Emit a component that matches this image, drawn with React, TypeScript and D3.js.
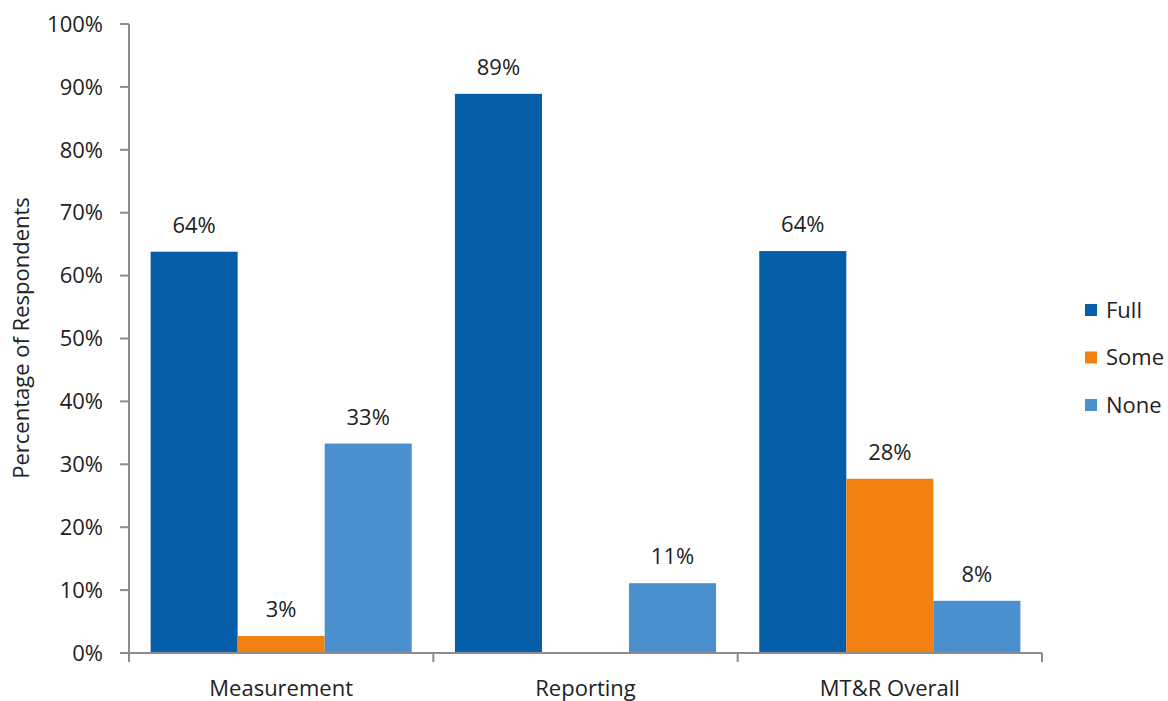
import React from "react";
import * as d3 from "d3";

const categories = ["Measurement", "Reporting", "MT&R Overall"];
const seriesNames = ["Full", "Some", "None"];
const fullValues = [63.8, 88.9, 63.9];
const someValues = [2.7, 0, 27.7];
const noneValues = [33.3, 11.1, 8.3];
const labelFull = ["64%", "89%", "64%"];
const labelSome = ["3%", "", "28%"];
const labelNone = ["33%", "11%", "8%"];
const yTicks = [0, 10, 20, 30, 40, 50, 60, 70, 80, 90, 100];
const colors = ["#065EA9", "#F28112", "#4A90CE"];

export default function App() {
  const W = 1168, H = 701;
  const left = 129, right = 1042, top = 24, bottom = 653;
  const x0 = d3.scaleBand<string>().domain(categories).range([left, right]).paddingInner(0.142).paddingOuter(0.071);
  const x1 = d3.scaleBand<string>().domain(seriesNames).range([0, x0.bandwidth()]).padding(0);
  const y = d3.scaleLinear().domain([0, 100]).range([bottom, top]);
  const values = [fullValues, someValues, noneValues];
  const labels = [labelFull, labelSome, labelNone];
  const font = "'Open Sans', 'Liberation Sans', sans-serif";
  const axisColor = "#8c8c8c";
  const step = (right - left) / categories.length;
  const fs = 22;

  return (
    <svg width={W} height={H} style={{ position: "absolute", left: 0, top: 0, background: "#fff" }} fontFamily={font}>
      {/* bars */}
      {categories.map((c, ci) =>
        seriesNames.map((s, si) => {
          const v = values[si][ci];
          if (v <= 0) return null;
          const bx = (x0(c) ?? 0) + (x1(s) ?? 0);
          return (
            <rect key={c + s} x={bx} y={y(v)} width={x1.bandwidth()} height={bottom - y(v)} fill={colors[si]} />
          );
        })
      )}
      {/* value labels */}
      {categories.map((c, ci) =>
        seriesNames.map((s, si) => {
          const v = values[si][ci];
          const lab = labels[si][ci];
          if (!lab) return null;
          const cx = (x0(c) ?? 0) + (x1(s) ?? 0) + x1.bandwidth() / 2;
          return (
            <text key={"l" + c + s} x={cx} y={y(v) - 19} textAnchor="middle" fontSize={fs} fill="#222">
              {lab}
            </text>
          );
        })
      )}
      {/* y axis */}
      <line x1={left} x2={left} y1={top} y2={bottom} stroke={axisColor} strokeWidth={2} />
      {yTicks.map((t) => (
        <g key={t}>
          <line x1={left - 9} x2={left} y1={y(t)} y2={y(t)} stroke={axisColor} strokeWidth={2} />
          <text x={103} y={y(t)} dy="0.35em" textAnchor="end" fontSize={fs} fill="#222">
            {t}%
          </text>
        </g>
      ))}
      {/* x axis */}
      <line x1={left - 9} x2={right} y1={bottom} y2={bottom} stroke={axisColor} strokeWidth={2} />
      {d3.range(categories.length + 1).map((i) => (
        <line key={"xt" + i} x1={left + i * step} x2={left + i * step} y1={bottom} y2={bottom + 9} stroke={axisColor} strokeWidth={2} />
      ))}
      {categories.map((c) => (
        <text key={"xl" + c} x={(x0(c) ?? 0) + x0.bandwidth() / 2} y={688} dy="0.35em" textAnchor="middle" fontSize={fs} fill="#222">
          {c}
        </text>
      ))}
      {/* y title */}
      <text transform={`translate(21,338) rotate(-90)`} textAnchor="middle" dy="0.35em" fontSize={fs} fill="#222">
        Percentage of Respondents
      </text>
      {/* legend */}
      {seriesNames.map((s, i) => (
        <g key={"lg" + s} transform={`translate(1085, ${310 + i * 47.5})`}>
          <rect x={0} y={-6} width={12} height={12} fill={colors[i]} />
          <text x={21} y={0} dy="0.35em" fontSize={fs} fill="#222">
            {s}
          </text>
        </g>
      ))}
    </svg>
  );
}
